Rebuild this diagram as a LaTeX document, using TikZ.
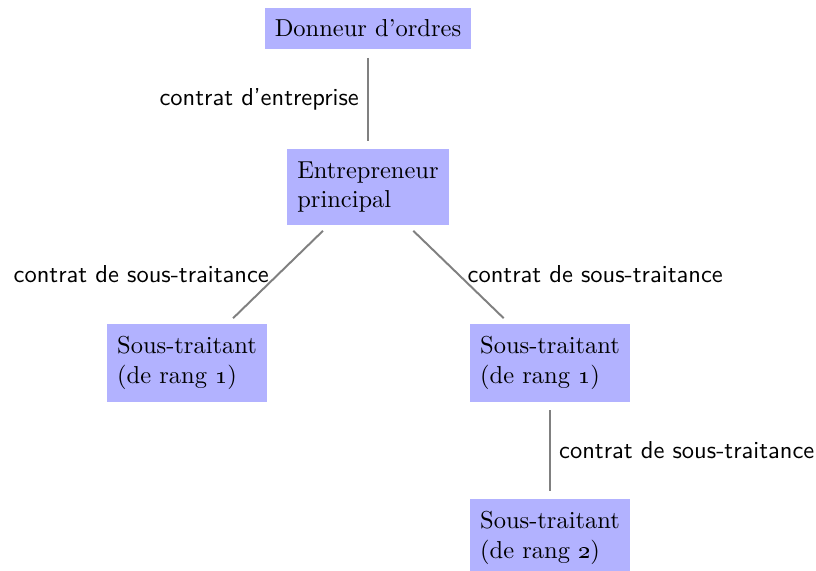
\documentclass[tikz,border=0pt]{standalone}
\begin{document}
\begin{tikzpicture}[
		partie/.style={fill=blue!30,align=left,inner xsep=4pt,inner ysep=5pt},
		lien/.style={draw=gray,thick,shorten <=3.3pt,shorten >=3.3pt},
		contrat/.style={font=\sffamily}]
			\useasboundingbox (-5.281,0.409) rectangle (6.429,-7.785);
			
			\node[partie] (donneur) at (0,0) {Donneur d'ordres};
			\node[partie] (entrepreneur) at (0,-2.275) {Entrepreneur\\principal};
			\node[partie] (st1g) at (-2.597,-4.8) {Sous-traitant\\(de rang \oldstylenums{1})};
			\node[partie] (st1d) at (2.612,-4.8) {Sous-traitant\\(de rang \oldstylenums{1})};
			\node[partie] (st2) at (2.612,-7.311) {Sous-traitant\\(de rang \oldstylenums{2})};
			
			\draw[lien] (donneur) -- node[contrat,left] {contrat d'entreprise} (entrepreneur);
			\draw[lien] (entrepreneur) -- node[contrat,left] {contrat de sous-traitance} (st1g);
			\draw[lien] (entrepreneur) -- node[contrat,right] {contrat de sous-traitance} (st1d);
			\draw[lien] (st1d) -- node[contrat,right] {contrat de sous-traitance} (st2);
		\end{tikzpicture}
\end{document}
